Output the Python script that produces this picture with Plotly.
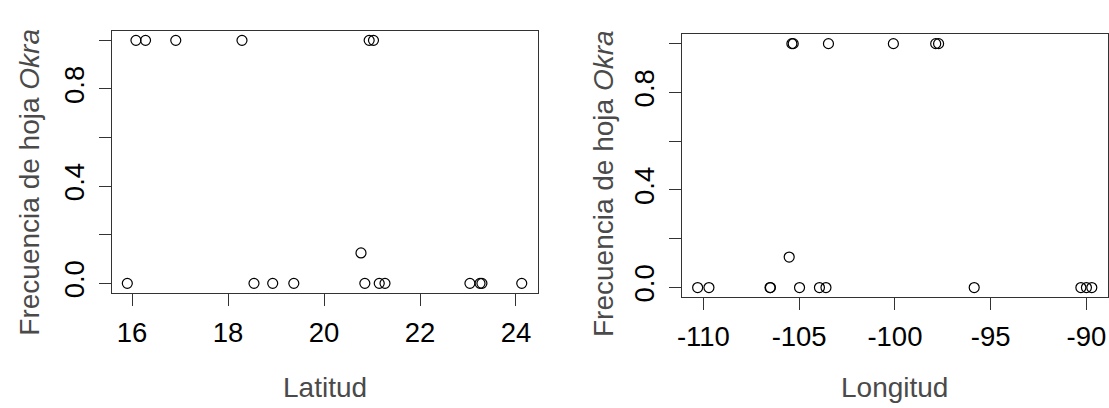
import plotly.graph_objects as go

# Data
latitud = [16.08, 16.28, 16.91, 18.29, 20.94, 21.03,
           15.90, 18.54, 18.93, 19.37, 20.85, 21.15, 21.27, 23.04, 23.25, 23.29, 24.12,
           20.77]
freq_lat = [1, 1, 1, 1, 1, 1,
            0, 0, 0, 0, 0, 0, 0, 0, 0, 0, 0,
            0.125]

longitud = [-105.38, -105.31, -103.47, -100.08, -97.87, -97.72,
            -110.30, -109.71, -106.52, -106.50, -104.98, -103.94, -103.60, -95.86, -90.29, -90.00, -89.72,
            -105.52]
freq_lon = [1, 1, 1, 1, 1, 1,
            0, 0, 0, 0, 0, 0, 0, 0, 0, 0, 0,
            0.125]

lat_ticks = [16, 18, 20, 22, 24]
lon_ticks = [-110, -105, -100, -95, -90]
y_ticks = [0.0, 0.2, 0.4, 0.6, 0.8, 1.0]
y_ticktext = ["0.0", "", "0.4", "", "0.8", ""]

W, H = 1109, 408
FONT = "Liberation Sans, Arial, sans-serif"
TITLE_COLOR = "#4a4a4a"

marker = dict(symbol="circle-open", size=10, color="black", line=dict(width=1.2, color="black"))

fig = go.Figure()
fig.add_trace(go.Scatter(x=latitud, y=freq_lat, mode="markers", marker=marker,
                         xaxis="x", yaxis="y", showlegend=False))
fig.add_trace(go.Scatter(x=longitud, y=freq_lon, mode="markers", marker=marker,
                         xaxis="x2", yaxis="y2", showlegend=False))

axis_common = dict(showgrid=False, zeroline=False, showline=True, mirror=True,
                   linecolor="#333333", linewidth=1, ticks="outside", ticklen=12,
                   tickwidth=1, tickcolor="#333333",
                   tickfont=dict(family=FONT, size=27.5, color="black"))

left_x = [107 / W, 535 / W]
left_y = [1 - 296.7 / H, 1 - 31 / H]
right_x = [680 / W, 1107.5 / W]
right_y = [1 - 301 / H, 1 - 34.3 / H]

fig.update_layout(
    width=W, height=H,
    margin=dict(l=0, r=0, t=0, b=0),
    paper_bgcolor="white", plot_bgcolor="white",
    xaxis=dict(domain=left_x, range=[15.571, 24.45], tickvals=lat_ticks,
               ticktext=[str(v) for v in lat_ticks], anchor="y", ticklabelstandoff=3, **axis_common),
    yaxis=dict(domain=left_y, range=[-0.04, 1.04], tickvals=y_ticks, ticktext=y_ticktext,
               tickangle=-90, anchor="x", ticklabelstandoff=4, **axis_common),
    xaxis2=dict(domain=right_x, range=[-111.12, -88.9], tickvals=lon_ticks,
                ticktext=[str(v) for v in lon_ticks], anchor="y2", ticklabelstandoff=3, **axis_common),
    yaxis2=dict(domain=right_y, range=[-0.04, 1.04], tickvals=y_ticks, ticktext=y_ticktext,
                tickangle=-90, anchor="x2", ticklabelstandoff=4, **axis_common),
    annotations=[
        dict(text="Latitud", x=(left_x[0] + left_x[1]) / 2, y=1 - 392 / H, xref="paper", yref="paper",
             showarrow=False, font=dict(family=FONT, size=28, color=TITLE_COLOR),
             xanchor="center", yanchor="middle"),
        dict(text="Longitud", x=(right_x[0] + right_x[1]) / 2, y=1 - 392 / H, xref="paper", yref="paper",
             showarrow=False, font=dict(family=FONT, size=28, color=TITLE_COLOR),
             xanchor="center", yanchor="middle"),
        dict(text="Frecuencia de hoja <i>Okra</i>", x=25 / W, y=1 - 184 / H, xref="paper", yref="paper",
             showarrow=False, textangle=-90, font=dict(family=FONT, size=28, color=TITLE_COLOR),
             xanchor="center", yanchor="middle"),
        dict(text="Frecuencia de hoja <i>Okra</i>", x=601 / W, y=1 - 186 / H, xref="paper", yref="paper",
             showarrow=False, textangle=-90, font=dict(family=FONT, size=28, color=TITLE_COLOR),
             xanchor="center", yanchor="middle"),
    ],
)

fig.write_html("out.html")
